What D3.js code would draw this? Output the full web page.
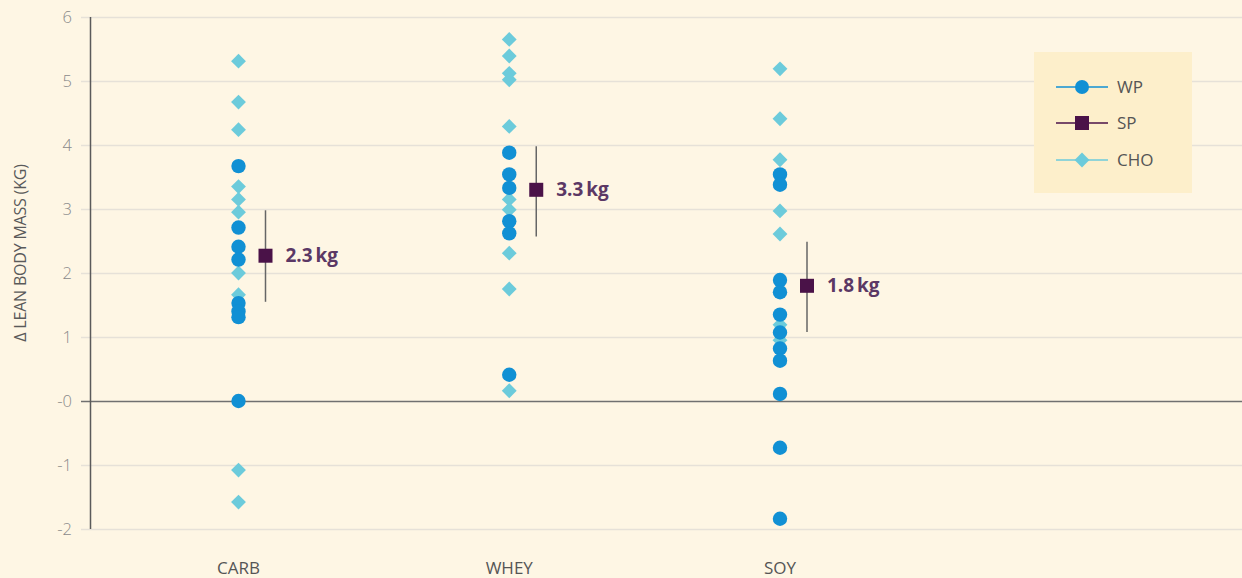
<!DOCTYPE html>
<html><head><meta charset="utf-8">
<script src="https://cdn.jsdelivr.net/npm/d3@7"></script>
<style>
html,body{margin:0;padding:0;background:#fef6e4;}
svg{display:block;font-family:"Open Sans",sans-serif;}
</style></head>
<body>
<svg id="chart" width="1242" height="578"></svg>
<script>
const categories = ["CARB", "WHEY", "SOY"];
const yTicks = [6, 5, 4, 3, 2, 1, 0, -1, -2];
const yTickLabels = ["6", "5", "4", "3", "2", "1", "-0", "-1", "-2"];
const choValues = [
  [5.31, 4.67, 4.24, 3.35, 3.15, 2.95, 2.00, 1.66, -1.08, -1.58],
  [5.65, 5.39, 5.12, 5.02, 4.29, 3.15, 2.99, 2.31, 1.75, 0.16],
  [5.19, 4.41, 3.77, 2.97, 2.61, 1.19, 0.95]
];
const wpValues = [
  [3.67, 2.71, 2.41, 2.21, 1.53, 1.40, 1.31, 0.0],
  [3.88, 3.54, 3.33, 2.81, 2.62, 0.41],
  [3.54, 3.38, 1.89, 1.70, 1.35, 1.07, 0.82, 0.63, 0.11, -0.73, -1.84]
];
const spMean = [2.27, 3.30, 1.80];
const spLow = [1.55, 2.57, 1.08];
const spHigh = [2.98, 3.98, 2.49];
const spLabels = ["2.3 kg", "3.3 kg", "1.8 kg"];
const legendNames = ["WP", "SP", "CHO"];

const colWP = "#1190d4", colSP = "#4a1248", colCHO = "#6ccbdb";

const svg = d3.select("#chart");
const x = d3.scalePoint().domain(categories).range([238.5, 780]);
const y = d3.scaleLinear().domain([-2, 6]).range([529, 17]);

// gridlines
svg.append("g").selectAll("line").data(yTicks.filter(d => d !== 0)).join("line")
  .attr("x1", 81).attr("x2", 1242)
  .attr("y1", d => Math.round(y(d)) + 0.5).attr("y2", d => Math.round(y(d)) + 0.5)
  .attr("stroke", "#e6e1d8").attr("stroke-width", 1.5);
// zero line
svg.append("line").attr("x1", 81).attr("x2", 1242)
  .attr("y1", Math.round(y(0)) + 0.5).attr("y2", Math.round(y(0)) + 0.5)
  .attr("stroke", "#707070").attr("stroke-width", 1.5);
// y axis line
svg.append("line").attr("x1", 90.5).attr("x2", 90.5).attr("y1", y(6)).attr("y2", y(-2))
  .attr("stroke", "#5a5a5a").attr("stroke-width", 1.5);
// y tick labels
svg.append("g").selectAll("text").data(yTicks).join("text")
  .attr("x", 72).attr("y", d => y(d)).attr("dy", "0.35em")
  .attr("text-anchor", "end").attr("font-size", 16.5).attr("fill", "#8a8a8a")
  .attr("font-weight", 300)
  .text((d, i) => yTickLabels[i]);
// y title
svg.append("text").attr("transform", `translate(26,${253}) rotate(-90)`)
  .attr("text-anchor", "middle").attr("font-size", 16).attr("fill", "#5a5a5a")
  .attr("letter-spacing", "-0.2px")
  .text("Δ LEAN BODY MASS (KG)");
// x labels
svg.append("g").selectAll("text").data(categories).join("text")
  .attr("x", d => x(d)).attr("y", 574).attr("text-anchor", "middle")
  .attr("font-size", 17).attr("fill", "#555").text(d => d);

const diamond = d3.symbol().type(d3.symbolSquare).size(110);
// CHO diamonds
categories.forEach((c, i) => {
  svg.append("g").selectAll("path").data(choValues[i]).join("path")
    .attr("d", diamond())
    .attr("transform", d => `translate(${x(c)},${y(d)}) rotate(45)`)
    .attr("fill", colCHO);
});
// WP circles
categories.forEach((c, i) => {
  svg.append("g").selectAll("circle").data(wpValues[i]).join("circle")
    .attr("cx", x(c)).attr("cy", d => y(d)).attr("r", 7.2)
    .attr("fill", colWP);
});
// SP mean + error bars
const off = 27;
categories.forEach((c, i) => {
  const cx = x(c) + off;
  svg.append("line").attr("x1", cx).attr("x2", cx)
    .attr("y1", y(spHigh[i])).attr("y2", y(spLow[i]))
    .attr("stroke", "#666").attr("stroke-width", 1.5);
  svg.append("rect").attr("x", cx - 7).attr("y", y(spMean[i]) - 7)
    .attr("width", 14).attr("height", 14).attr("fill", colSP);
  svg.append("text").attr("x", cx + 20).attr("y", y(spMean[i])).attr("dy", "0.35em")
    .attr("font-size", 19).attr("font-weight", 700).attr("fill", "#5b3865")
    .attr("word-spacing", "-2px")
    .text(spLabels[i]);
});

// legend
const lg = svg.append("g");
lg.append("rect").attr("x", 1034).attr("y", 52).attr("width", 158).attr("height", 141)
  .attr("fill", "#fdefcb");
const ly = [87, 123, 160];
const lcol = [colWP, colSP, colCHO];
legendNames.forEach((n, i) => {
  lg.append("line").attr("x1", 1056).attr("x2", 1108).attr("y1", ly[i]).attr("y2", ly[i])
    .attr("stroke", lcol[i]).attr("stroke-width", 1.5);
  if (i === 0) lg.append("circle").attr("cx", 1082).attr("cy", ly[i]).attr("r", 7).attr("fill", colWP);
  if (i === 1) lg.append("rect").attr("x", 1075).attr("y", ly[i] - 7).attr("width", 14).attr("height", 14).attr("fill", colSP);
  if (i === 2) lg.append("path").attr("d", diamond()).attr("transform", `translate(1082,${ly[i]}) rotate(45)`).attr("fill", colCHO);
  lg.append("text").attr("x", 1117).attr("y", ly[i]).attr("dy", "0.35em")
    .attr("font-size", 17).attr("fill", "#555").text(n);
});
</script>
</body></html>
